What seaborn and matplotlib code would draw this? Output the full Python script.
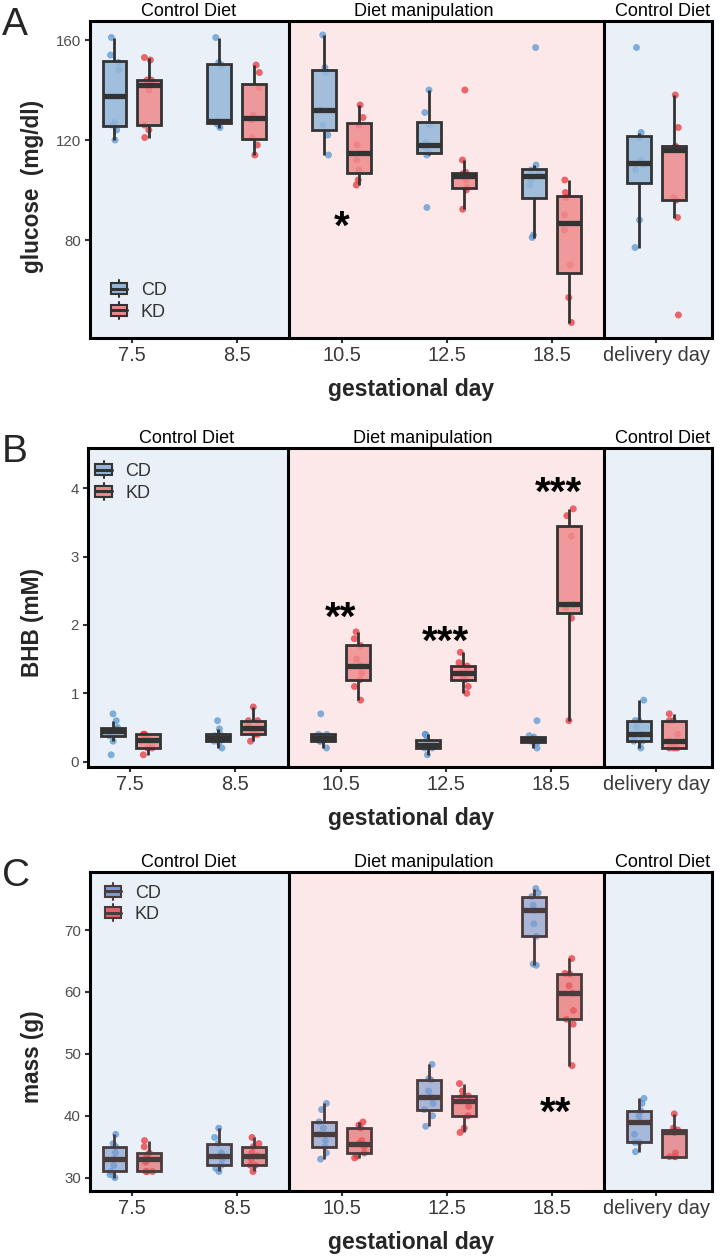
import numpy as np
import pandas as pd
import matplotlib
matplotlib.use("Agg")
import matplotlib.pyplot as plt
import seaborn as sns
from matplotlib.patches import Patch, Rectangle, PathPatch
from matplotlib.lines import Line2D
from matplotlib.legend_handler import HandlerBase

# ---------------- data ----------------
days = ["7.5", "8.5", "10.5", "12.5", "18.5", "delivery day"]
diets = ["CD", "KD"]
sections = ["Control Diet", "Diet manipulation", "Control Diet"]

glucose_CD = [
    [120, 124, 126, 127, 148, 151, 154, 161],
    [125, 126.5, 127, 127.5, 150, 151, 161],
    [114, 122, 126, 132, 147, 149, 162],
    [93, 114, 115, 117, 119, 126, 131, 140],
    [81, 82, 102, 104, 107, 108, 110, 157],
    [77, 88, 108, 110, 112, 121, 123, 157],
]
glucose_KD = [
    [121, 124, 126, 140, 142, 144, 144, 152, 153],
    [114, 118, 121, 128, 130, 141, 147, 150],
    [102, 104, 108, 112, 118, 126, 129, 134],
    [92.3, 100, 101, 104, 105.5, 106.5, 107, 112, 140],
    [47, 57, 70, 84, 90, 97, 99, 104],
    [50, 89, 96, 97, 116, 117, 117.5, 125, 138],
]
bhb_CD = [
    [0.1, 0.3, 0.38, 0.42, 0.45, 0.48, 0.5, 0.6, 0.7],
    [0.2, 0.28, 0.3, 0.33, 0.35, 0.38, 0.4, 0.48, 0.6],
    [0.2, 0.3, 0.3, 0.32, 0.35, 0.38, 0.4, 0.4, 0.7],
    [0.1, 0.2, 0.2, 0.22, 0.25, 0.28, 0.32, 0.4, 0.4],
    [0.2, 0.28, 0.3, 0.32, 0.34, 0.36, 0.38, 0.6],
    [0.2, 0.3, 0.3, 0.35, 0.4, 0.5, 0.6, 0.6, 0.9],
]
bhb_KD = [
    [0.1, 0.2, 0.2, 0.3, 0.32, 0.35, 0.4, 0.4, 0.4],
    [0.3, 0.4, 0.4, 0.45, 0.5, 0.55, 0.6, 0.6, 0.8],
    [0.9, 1.1, 1.2, 1.3, 1.4, 1.5, 1.7, 1.8, 1.9],
    [1.0, 1.1, 1.2, 1.25, 1.3, 1.35, 1.4, 1.45, 1.6],
    [0.6, 2.1, 2.25, 2.3, 3.3, 3.6, 3.7],
    [0.2, 0.2, 0.2, 0.25, 0.3, 0.4, 0.6, 0.6, 0.7],
]
mass_CD = [
    [30, 30.5, 31, 32, 33, 34, 35, 35.5, 37],
    [31, 31.5, 32, 33, 33.5, 34, 35.5, 36.5, 38],
    [33, 34, 35, 36, 37, 38, 39, 41, 42],
    [38.3, 40, 41, 42, 43, 44, 45.8, 46, 48.3],
    [64.3, 64.5, 69, 71, 73.2, 74, 75.4, 76, 76.7],
    [34.2, 35.7, 35.7, 37, 39, 40, 40.8, 42, 42.8],
]
mass_KD = [
    [31, 31, 31, 32.5, 33, 33.5, 34, 35, 36],
    [31, 32, 32, 33, 33.5, 34, 35, 35.5, 36.5],
    [33.2, 33.5, 34, 35, 35.5, 36, 38, 38.5, 39],
    [37.3, 38, 40, 41.5, 42.4, 43, 43.2, 44, 45.2],
    [48.1, 54.8, 55.6, 57, 59.8, 61, 62.9, 63, 65.4],
    [33.4, 33.4, 33.4, 34, 37.3, 37.5, 37.7, 38, 40.3],
]

# significance annotations: (category position, value, label)
stars_A = [(2.0, 89.2, "*")]
stars_B = [(2.0, 2.25, "**"), (3.0, 1.9, "***"), (4.07, 4.08, "***")]
stars_C = [(4.04, 42.1, "**")]

# ---------------- style ----------------
sns.set_style("white")
plt.rcParams["font.family"] = ["Liberation Sans", "DejaVu Sans"]

BG_CTRL = "#e9f0f7"
BG_MANIP = "#fde8e9"
PT_COL = {"CD": "#5a97d3", "KD": "#e8363e"}

W, H = 720, 1257
fig = plt.figure(figsize=(W / 100, H / 100), dpi=100)


def make_df(cd, kd):
    rows = []
    for d, vals in zip(days, cd):
        rows += [(d, "CD", v) for v in vals]
    for d, vals in zip(days, kd):
        rows += [(d, "KD", v) for v in vals]
    return pd.DataFrame(rows, columns=["day", "diet", "value"])


class BoxKeyHandler(HandlerBase):
    def __init__(self, edge):
        super().__init__()
        self.edge = edge

    def create_artists(self, legend, orig_handle, xdescent, ydescent,
                       width, height, fontsize, trans):
        fc = orig_handle.get_facecolor()
        cx = width / 2 - xdescent
        cy = height / 2 - ydescent
        bh = 8.0
        arts = [
            Line2D([cx, cx], [cy - 6.2, cy + 6.2], color=self.edge, lw=1.5, transform=trans),
            Rectangle((cx - width / 2, cy - bh / 2), width, bh, facecolor=fc,
                      edgecolor=self.edge, lw=1.5, transform=trans),
            Line2D([cx - width / 2, cx + width / 2], [cy, cy], color=self.edge, lw=2.2,
                   transform=trans),
        ]
        return arts


panels = [
    dict(cd=glucose_CD, kd=glucose_KD, px=(90, 21, 712, 338), ylim=(40.8, 167.6),
         yticks=[80, 120, 160], ylabel="glucose  (mg/dl)", letter="A", stars=stars_A,
         box_col={"CD": "#94b7d9", "KD": "#ee8a8c"}, box_alpha=0.85, edge="#333333",
         leg=(0.034, (301.4)), ylab_y=186.5),
    dict(cd=bhb_CD, kd=bhb_KD, px=(88, 448, 712, 767), ylim=(-0.078, 4.59),
         yticks=[0, 1, 2, 3, 4], ylabel="BHB (mM)", letter="B", stars=stars_B,
         box_col={"CD": "#94b7d9", "KD": "#ee8a8c"}, box_alpha=0.85, edge="#333333",
         leg=(0.012, 482.3), ylab_y=622),
    dict(cd=mass_CD, kd=mass_KD, px=(90, 872, 712, 1191), ylim=(27.85, 79.37),
         yticks=[30, 40, 50, 60, 70], ylabel="mass (g)", letter="C", stars=stars_C,
         box_col={"CD": "#7f9ccc", "KD": "#e46469"}, box_alpha=0.65, edge="#4a3b3d",
         leg=(0.024, 903.8), ylab_y=1057),
]

np.random.seed(3)

for P in panels:
    l, t, r, b = P["px"]
    ax = fig.add_axes([l / W, 1 - b / H, (r - l) / W, (b - t) / H])
    df = make_df(P["cd"], P["kd"])

    sns.stripplot(data=df, x="day", y="value", hue="diet", order=days, hue_order=diets,
                  palette=PT_COL, dodge=True, jitter=True, size=5, alpha=0.75,
                  linewidth=0, legend=False, ax=ax, zorder=2)
    # bring dodged points to the same offset as the boxes
    for coll in ax.collections:
        off = coll.get_offsets()
        if len(off) == 0:
            continue
        x = np.asarray(off[:, 0], dtype=float)
        cat = np.round(x)
        d = x - cat
        s = np.sign(d)
        off[:, 0] = cat + s * 0.1667 + (d - s * 0.2)
        coll.set_offsets(off)

    sns.boxplot(data=df, x="day", y="value", hue="diet", order=days, hue_order=diets,
                palette=P["box_col"], saturation=1, width=0.667, gap=0.316, whis=1.5,
                showfliers=False, linecolor=P["edge"], linewidth=2.0, legend=False,
                medianprops=dict(linewidth=3.8), capprops=dict(linewidth=0), ax=ax,
                zorder=3)
    for p in ax.patches:
        if isinstance(p, PathPatch):
            fc = p.get_facecolor()
            p.set_facecolor((fc[0], fc[1], fc[2], P["box_alpha"]))

    x0, x1 = -0.40, 5.53
    ax.set_xlim(x0, x1)
    ax.set_ylim(*P["ylim"])
    ax.axvspan(x0, 1.5, color=BG_CTRL, zorder=0, lw=0)
    ax.axvspan(1.5, 4.5, color=BG_MANIP, zorder=0, lw=0)
    ax.axvspan(4.5, x1, color=BG_CTRL, zorder=0, lw=0)
    for xv in (1.5, 4.5):
        ax.axvline(xv, color="black", lw=2.2, zorder=4)

    for sp in ax.spines.values():
        sp.set_visible(True)
        sp.set_color("black")
        sp.set_linewidth(2.2)
        sp.set_zorder(5)

    ax.set_yticks(P["yticks"])
    ax.set_yticklabels([str(v) for v in P["yticks"]])
    ax.tick_params(axis="y", left=True, length=3.5, width=1.5, color="#333333",
                   labelsize=10.8, labelcolor="#4d4d4d", pad=3)
    ax.tick_params(axis="x", bottom=True, length=3.5, width=1.5, color="#333333",
                   labelsize=14.4, labelcolor="#3a3a3a", pad=2.5)
    ax.set_xlabel("")
    ax.set_ylabel("")

    # section titles
    for xs, txt in zip((0.54, 2.78, 5.06), sections):
        ax.annotate(txt, xy=(xs, 1), xycoords=("data", "axes fraction"),
                    xytext=(0, 3.6), textcoords="offset points", ha="center",
                    va="baseline", fontsize=13, color="black")

    # stars
    for xs, ys, txt in P["stars"]:
        ax.annotate(txt, xy=(xs, ys), xytext=(0, -0.55 * 29), textcoords="offset points",
                    ha="center", va="baseline", fontsize=29, fontweight="bold",
                    color="black", zorder=6)

    # legend
    handles = [Patch(facecolor=P["box_col"][k], alpha=1) for k in diets]
    lx, ly = P["leg"]
    leg = ax.legend(handles, diets, handler_map={Patch: BoxKeyHandler(P["edge"])},
                    loc="center left", bbox_to_anchor=(lx, (b - ly) / (b - t)),
                    frameon=False, borderpad=0, borderaxespad=0, fontsize=13,
                    handlelength=0.9, handletextpad=0.75, labelspacing=0.25)
    for txt in leg.get_texts():
        txt.set_color("#333333")
    leg.set_zorder(7)

    # axis titles and panel letter
    fig.text(411 / W, 1 - (b + 58) / H, "gestational day", ha="center", va="baseline",
             fontsize=16.5, fontweight="bold")
    fig.text(33 / W, 1 - P["ylab_y"] / H, P["ylabel"], rotation=90, ha="center",
             va="center", fontsize=16.3, fontweight="bold")
    fig.text(2 / W, 1 - (t + 14) / H, P["letter"], ha="left", va="baseline",
             fontsize=28)

fig.savefig("out.png", dpi=100)
